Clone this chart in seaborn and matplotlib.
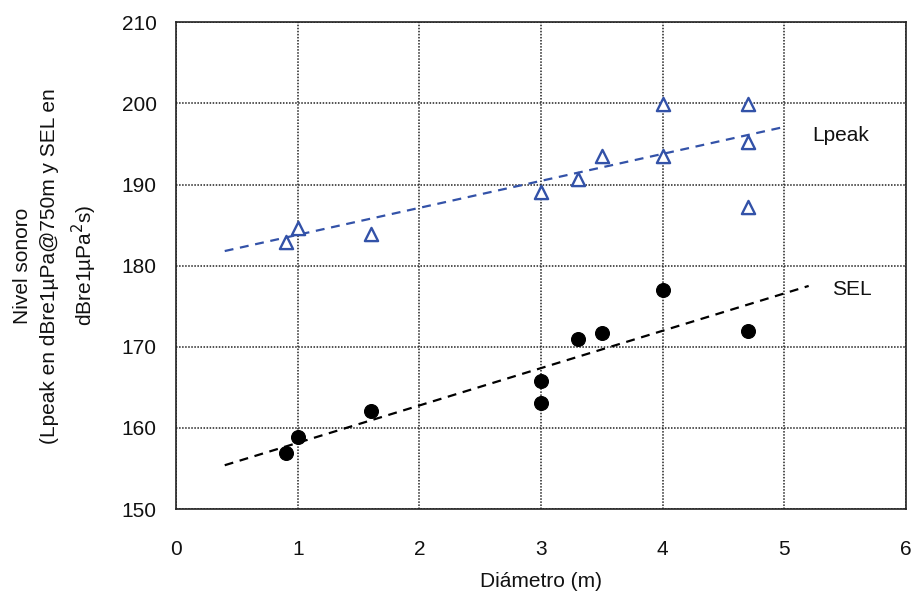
import matplotlib
matplotlib.use("Agg")
import matplotlib.pyplot as plt
import seaborn as sns
import pandas as pd

# ----------------------------------------------------------------------
# Data
# ----------------------------------------------------------------------
lpeak_diam = [0.9, 1.0, 1.6, 3.0, 3.3, 3.5, 4.0, 4.0, 4.7, 4.7, 4.7]
lpeak_level = [182.9, 184.6, 183.9, 189.1, 190.7, 193.5, 199.9, 193.5, 199.9, 195.3, 187.2]

sel_diam = [0.9, 1.0, 1.6, 3.0, 3.0, 3.3, 3.5, 4.0, 4.7]
sel_level = [156.9, 158.9, 162.1, 165.8, 163.1, 171.0, 171.7, 177.0, 172.0]

# trend line end points
lpeak_fit_x = [0.4, 5.0]
lpeak_fit_y = [181.8, 197.1]
sel_fit_x = [0.4, 5.2]
sel_fit_y = [155.4, 177.5]

x_ticks = [0, 1, 2, 3, 4, 5, 6]
y_ticks = [150, 160, 170, 180, 190, 200, 210]

lpeak_df = pd.DataFrame({"diam": lpeak_diam, "level": lpeak_level})
sel_df = pd.DataFrame({"diam": sel_diam, "level": sel_level})

sns.set_style("white")
plt.rcParams["font.family"] = ["Liberation Sans", "DejaVu Sans"]
plt.rcParams["text.color"] = "#111111"
plt.rcParams["axes.labelcolor"] = "#111111"
plt.rcParams["xtick.color"] = "#111111"
plt.rcParams["ytick.color"] = "#111111"

fig, ax = plt.subplots(figsize=(9.17, 6.01), dpi=100)
fig.subplots_adjust(left=0.192, right=0.988, top=0.963, bottom=0.153)

blue = "#3352a8"

# trend lines
sns.lineplot(x=lpeak_fit_x, y=lpeak_fit_y, ax=ax, color=blue, linestyle=(0, (4, 3)), linewidth=1.6)
sns.lineplot(x=sel_fit_x, y=sel_fit_y, ax=ax, color="black", linestyle=(0, (4, 3)), linewidth=1.6)

# points
sns.scatterplot(data=lpeak_df, x="diam", y="level", ax=ax, marker="^", s=90,
                facecolor="white", edgecolor=blue, linewidth=1.7, zorder=3)
sns.scatterplot(data=sel_df, x="diam", y="level", ax=ax, marker="o", s=100,
                color="black", edgecolor="black", zorder=3)

ax.text(5.23, 196.1, "Lpeak", fontsize=15, va="center", ha="left")
ax.text(5.39, 177.0, "SEL", fontsize=15, va="center", ha="left")

ax.set_xlim(0, 6)
ax.set_ylim(150, 210)
ax.set_xticks(x_ticks)
ax.set_yticks(y_ticks)
ax.tick_params(labelsize=15, direction="in", length=3)
ax.tick_params(axis="x", pad=22)
ax.tick_params(axis="y", pad=14)
ax.grid(True, color="#222222", linestyle=(0, (1, 1)), linewidth=1.1)
for s in ax.spines.values():
    s.set_color("#222222")
    s.set_linewidth(1.2)

ax.set_xlabel("Diámetro (m)", fontsize=15, labelpad=10)
ax.set_ylabel("Nivel sonoro\n(Lpeak en dBre1µPa@750m y SEL en\ndBre1µPa$^2$s)",
              fontsize=15, labelpad=16, linespacing=1.5)

fig.savefig("out.png", dpi=100)
